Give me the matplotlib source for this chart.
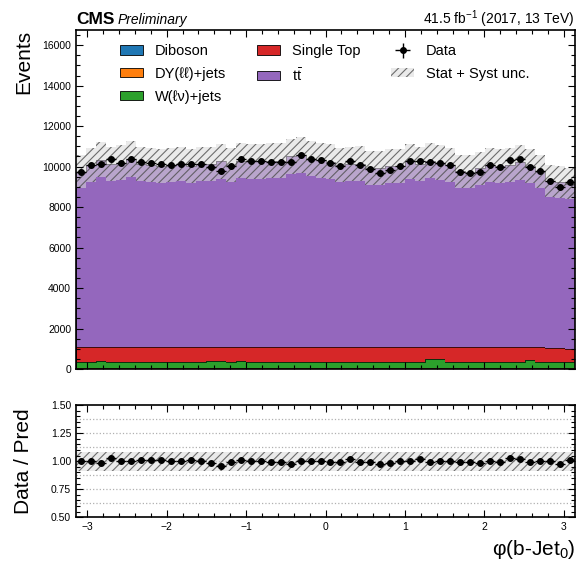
import numpy as np
import matplotlib.pyplot as plt
from matplotlib.patches import Patch
from matplotlib.ticker import MultipleLocator, FixedLocator

plt.rcParams['font.family'] = ['Liberation Sans', 'DejaVu Sans']
plt.rcParams['mathtext.fontset'] = 'custom'
plt.rcParams['mathtext.rm'] = 'Liberation Sans'
plt.rcParams['mathtext.it'] = 'Liberation Sans:italic'
plt.rcParams['mathtext.bf'] = 'Liberation Sans:bold'
plt.rcParams['mathtext.default'] = 'regular'
plt.rcParams['hatch.linewidth'] = 0.8

# --------------- HISTOGRAM CONTENTS (50 bins in phi) ---------------
n_bins = 50
edges = np.linspace(-np.pi, np.pi, n_bins + 1)

data = [9743, 10089, 10123, 10370, 10188, 10370, 10222, 10173, 10138, 10089,
        10123, 10123, 10123, 9975, 9793, 10025, 10385, 10272, 10272, 10222,
        10222, 10222, 10553, 10385, 10321, 10173, 10025, 10286, 10089, 9862,
        9664, 9812, 10025, 10272, 10272, 10222, 10188, 10089, 9713, 9679,
        9713, 10089, 9990, 10321, 10370, 9990, 9763, 9284, 8988, 9234]

diboson = [11, 10, 12, 11, 10, 11, 12, 10, 11, 10, 12, 11, 10, 11, 12, 10, 11,
           12, 10, 11, 11, 10, 12, 11, 10, 11, 12, 11, 10, 11, 12, 10, 11, 10,
           11, 12, 11, 10, 11, 12, 10, 11, 11, 10, 12, 11, 10, 11, 10, 11]
dy_jets = [31, 29, 33, 30, 28, 32, 30, 31, 29, 33, 30, 28, 31, 32, 30, 29, 33,
           31, 30, 28, 32, 30, 31, 29, 30, 33, 31, 28, 30, 32, 29, 31, 30, 28,
           33, 31, 30, 29, 32, 30, 28, 31, 33, 30, 29, 31, 32, 30, 28, 31]
w_jets = [318, 305, 352, 310, 322, 300, 315, 328, 306, 312, 320, 298, 315, 330,
          348, 312, 340, 305, 318, 310, 322, 300, 316, 325, 308, 314, 302, 320,
          312, 306, 318, 310, 304, 322, 315, 430, 436, 312, 305, 318, 310, 320,
          306, 314, 322, 398, 312, 305, 318, 296]
single_top = [712, 728, 690, 716, 705, 722, 718, 700, 725, 714, 708, 730, 716,
              702, 684, 720, 694, 726, 712, 724, 706, 728, 715, 704, 722, 710,
              726, 708, 716, 720, 710, 715, 724, 706, 713, 602, 598, 722, 728,
              712, 718, 706, 720, 716, 704, 636, 718, 712, 680, 672]
ttbar = [8671, 9017, 9243, 9060, 9123, 9305, 9056, 9013, 8976, 9020, 9053, 8966,
         9051, 9052, 9180, 9015, 9214, 9198, 9202, 9211, 9213, 9438, 9479, 9316,
         9251, 9166, 9014, 9067, 9082, 8853, 8863, 8946, 8956, 9206, 9048, 9209,
         9113, 9016, 8696, 8665, 8845, 9021, 8980, 9009, 9150, 8974, 8691, 8226,
         8201, 8142]
unc_frac = 0.084

samples = [
    ('Diboson', diboson, '#1f77b4'),
    ('DY(ℓℓ)+jets', dy_jets, '#ff7f0e'),
    ('W(ℓν)+jets', w_jets, '#2ca02c'),
    ('Single Top', single_top, '#d62728'),
    (r'$t\bar{t}$', ttbar, '#9467bd'),
]

data = np.array(data, dtype=float)
centers = 0.5 * (edges[1:] + edges[:-1])
half_width = 0.5 * np.diff(edges)

# --------------- FIGURE ---------------
fig = plt.figure(figsize=(5.78, 5.63), dpi=100)
ax = fig.add_axes([0.1315, 0.3446, 0.8633, 0.6021])
rax = fig.add_axes([0.1315, 0.0812, 0.8633, 0.1994], sharex=ax)

band_face = (0.85, 0.85, 0.85, 0.55)
band_hatch = (0.3, 0.3, 0.3, 0.8)

bottom = np.zeros(n_bins)
handles = []
for label, values, color in samples:
    top = bottom + np.array(values, dtype=float)
    ax.stairs(top, edges, baseline=bottom, fill=True, color=color, lw=0)
    ax.stairs(top, edges, color='k', lw=0.5)
    handles.append(Patch(facecolor=color, edgecolor='k', lw=0.6, label=label))
    bottom = top
pred = bottom
unc = pred * unc_frac

ax.stairs(pred + unc, edges, baseline=pred - unc, fill=True,
          facecolor=band_face, edgecolor=band_hatch, hatch='////', lw=0)
data_handle = ax.errorbar(centers, data, xerr=half_width, yerr=np.sqrt(data),
                          fmt='o', color='k', markersize=4, elinewidth=1.0,
                          capsize=0, label='Data')
handles.append(data_handle)
handles.append(Patch(facecolor=band_face, edgecolor=band_hatch, hatch='////',
                     lw=0, label='Stat + Syst unc.'))

ax.set_xlim(-np.pi, np.pi)
ax.set_ylim(0, 16750)
ax.yaxis.set_major_locator(MultipleLocator(2000))
ax.yaxis.set_minor_locator(MultipleLocator(500))
ax.set_ylabel('Events', loc='top', fontsize=15)
ax.yaxis.set_label_coords(-0.086, 1.0)
plt.setp(ax.get_xticklabels(), visible=False)

ax.legend(handles=handles, ncol=3, loc='upper left',
          bbox_to_anchor=(0.088, 0.958), frameon=False, fontsize=10.5,
          borderpad=0, borderaxespad=0, handlelength=1.6, handleheight=0.6,
          handletextpad=0.8, columnspacing=2.1, labelspacing=0.6)

ax.text(0.0, 1.018, 'CMS', transform=ax.transAxes, fontsize=12.5,
        fontweight='bold', va='baseline', ha='left')
ax.text(0.083, 1.018, 'Preliminary', transform=ax.transAxes, fontsize=10,
        style='italic', va='baseline', ha='left')
ax.text(1.0, 1.018, '41.5 fb$^{-1}$ (2017, 13 TeV)', transform=ax.transAxes,
        fontsize=10, va='baseline', ha='right')

# --------------- RATIO PANEL ---------------
ratio = data / pred
rax.stairs(1 + unc_frac * np.ones(n_bins), edges,
           baseline=1 - unc_frac * np.ones(n_bins), fill=True,
           facecolor=band_face, edgecolor=band_hatch, hatch='////', lw=0)
for level in [0.625, 0.75, 0.875, 1.0, 1.125, 1.25, 1.375]:
    rax.axhline(level, color='#b0b0b0', ls=':', lw=0.9, zorder=0)
rax.errorbar(centers, ratio, xerr=half_width, yerr=np.sqrt(data) / pred,
             fmt='o', color='k', markersize=4, elinewidth=1.0, capsize=0)
rax.set_ylim(0.5, 1.5)
rax.yaxis.set_major_locator(FixedLocator([0.5, 0.75, 1.0, 1.25, 1.5]))
rax.yaxis.set_major_formatter(lambda v, p: f'{v:.2f}')
rax.yaxis.set_minor_locator(MultipleLocator(0.05))
rax.xaxis.set_major_locator(MultipleLocator(1))
rax.xaxis.set_minor_locator(MultipleLocator(0.2))
rax.set_ylabel('Data / Pred', fontsize=15)
rax.yaxis.set_label_coords(-0.086, 0.5)
rax.set_xlabel('φ(b-Jet$_0$)', loc='right', fontsize=15)

for a in (ax, rax):
    a.tick_params(which='both', direction='in', top=True, right=True,
                  labelsize=7.5, width=0.8)
    a.tick_params(which='major', length=5)
    a.tick_params(which='minor', length=3)
    for s in a.spines.values():
        s.set_linewidth(1.2)

fig.savefig('out.png', dpi=100)
